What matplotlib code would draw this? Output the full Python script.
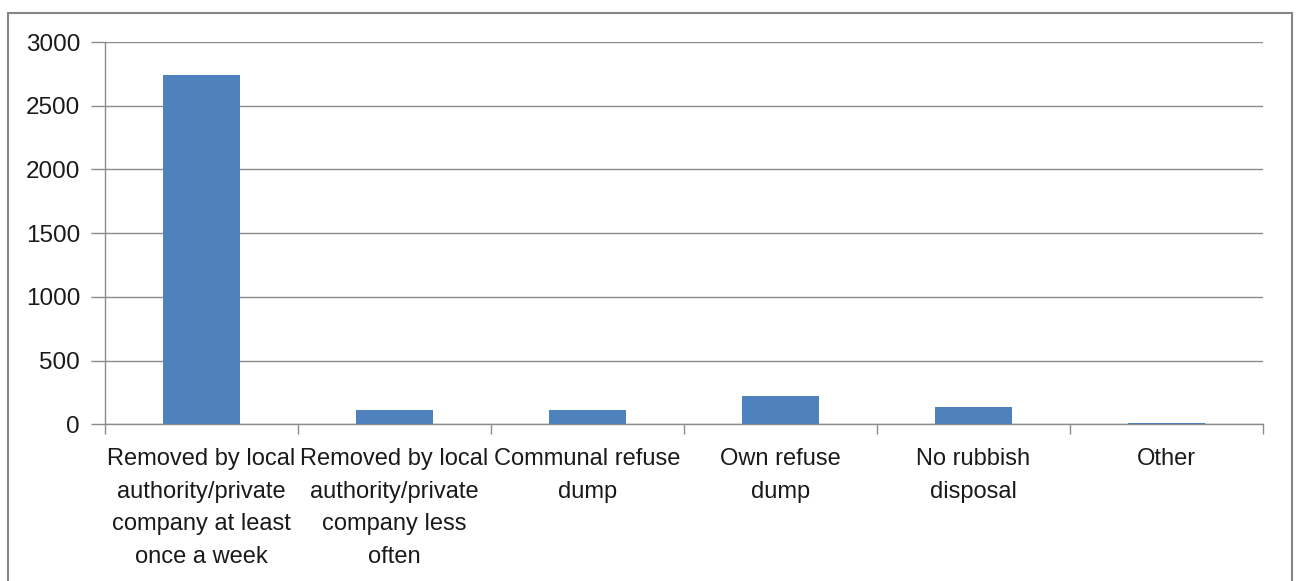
import matplotlib.pyplot as plt
from matplotlib.patches import Rectangle
import numpy as np

categories = [
    "Removed by local\nauthority/private\ncompany at least\nonce a week",
    "Removed by local\nauthority/private\ncompany less\noften",
    "Communal refuse\ndump",
    "Own refuse\ndump",
    "No rubbish\ndisposal",
    "Other",
]
households = [2742, 114, 114, 226, 135, 13]
y_ticks = [0, 500, 1000, 1500, 2000, 2500, 3000]

plt.rcParams['font.family'] = ['Liberation Sans', 'DejaVu Sans']

fig = plt.figure(figsize=(12.97, 5.81), dpi=100)
ax = fig.add_axes([0.081, 0.2694, 0.8928, 0.6583])

x = np.arange(len(categories))
ax.bar(x, households, width=0.4, color='#4F81BD', zorder=3)

grid_col = '#8c8c8c'
ax.set_xlim(-0.5, len(categories) - 0.5)
ax.set_ylim(0, 3000)
ax.set_yticks(y_ticks)
ax.set_yticklabels([str(v) for v in y_ticks], fontsize=17.5, color='#1a1a1a')
ax.yaxis.grid(True, color=grid_col, linewidth=1, zorder=0)
ax.tick_params(axis='y', length=10, color=grid_col, width=1, pad=8)

# category labels sit at centres, tick marks at the boundaries
ax.set_xticks(x)
ax.set_xticklabels(categories, fontsize=17, color='#1a1a1a', linespacing=1.62)
ax.tick_params(axis='x', which='major', length=0, pad=17)
ax.set_xticks(np.arange(-0.5, len(categories)), minor=True)
ax.tick_params(axis='x', which='minor', length=7, color=grid_col, width=1)

for side in ['top', 'right']:
    ax.spines[side].set_visible(False)
for side in ['left', 'bottom']:
    ax.spines[side].set_color(grid_col)
    ax.spines[side].set_linewidth(1)

# outer chart frame
fig.patches.append(Rectangle((8 / 1297, -0.05), 1284 / 1297, 1.05 - 13 / 581,
                             transform=fig.transFigure, fill=False,
                             edgecolor='#868686', linewidth=1.5))

fig.savefig('out.png', dpi=100)
